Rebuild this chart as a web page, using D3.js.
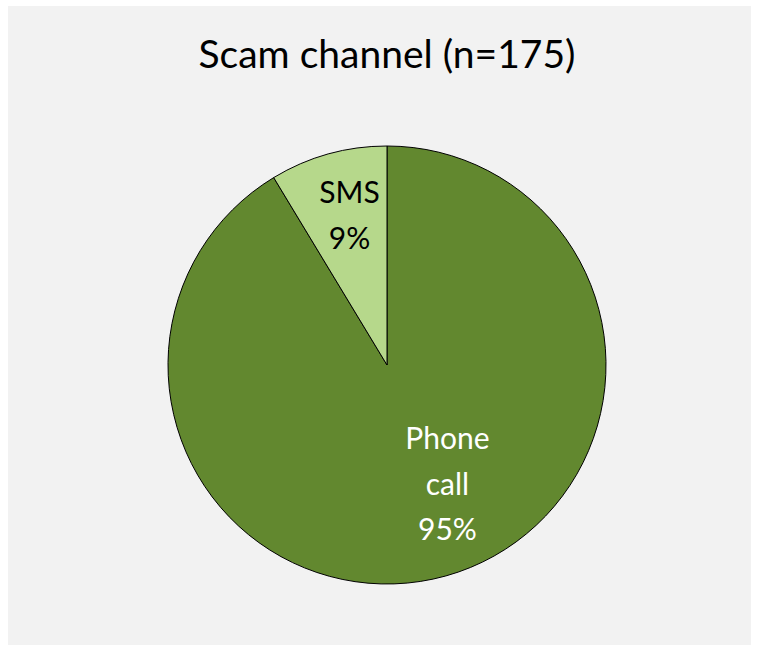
<!DOCTYPE html>
<html>
<head>
<meta charset="utf-8">
<script src="https://cdn.jsdelivr.net/npm/d3@7"></script>
<style>
  body { margin: 0; background: #fff; }
  text { font-family: Lato, "Open Sans", sans-serif; }
</style>
</head>
<body>
<svg id="chart" width="759" height="645"></svg>
<script>
// data
const categories = ["Phone call", "SMS"];
const values = [95, 9];
const labels = ["95%", "9%"];
const colors = ["#62882f", "#b6d88b"];
const title = "Scam channel (n=175)";

const svg = d3.select("#chart");

// chart area background
svg.append("rect")
  .attr("x", 8).attr("y", 6)
  .attr("width", 743).attr("height", 639)
  .attr("fill", "#f2f2f2");

svg.append("text")
  .attr("x", 387).attr("y", 68)
  .attr("text-anchor", "middle")
  .attr("font-size", 39)
  .attr("fill", "#000")
  .text(title);

const cx = 387, cy = 365, r = 219;

const pie = d3.pie().sort(null).value(d => d.value);
const arc = d3.arc().innerRadius(0).outerRadius(r);

const data = categories.map((c, i) => ({ name: c, value: values[i], label: labels[i], color: colors[i] }));
const arcs = pie(data);

const g = svg.append("g").attr("transform", `translate(${cx},${cy})`);

g.selectAll("path")
  .data(arcs)
  .enter()
  .append("path")
  .attr("d", arc)
  .attr("fill", d => d.data.color)
  .attr("stroke", "#000")
  .attr("stroke-width", 1);

// label lines, placed inside the slices like Excel does
const lineGap = 45.5;

g.selectAll("text.lbl")
  .data(arcs)
  .enter()
  .append("text")
  .attr("class", "lbl")
  .attr("text-anchor", "middle")
  .attr("font-size", 30)
  .attr("fill", d => d.data.name === "SMS" ? "#000" : "#fff")
  .each(function (d) {
    const lines = d.data.name === "Phone call" ? ["Phone", "call", d.data.label] : [d.data.name, d.data.label];
    const [x, y] = d.data.name === "SMS" ? [-37.5, -162] : [60.5, 84];
    const t = d3.select(this);
    lines.forEach((ln, i) => {
      t.append("tspan")
        .attr("x", x)
        .attr("y", y + i * lineGap)
        .text(ln);
    });
  });
</script>
</body>
</html>
